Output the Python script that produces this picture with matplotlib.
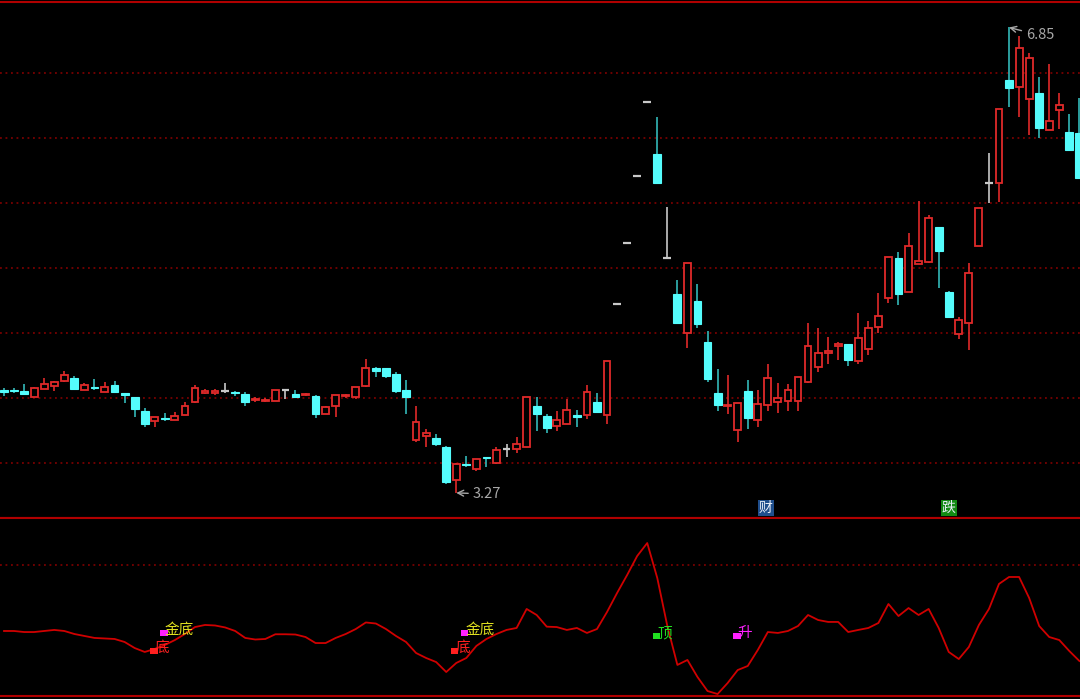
import matplotlib
matplotlib.use("Agg")
import matplotlib.pyplot as plt
from matplotlib.patches import Rectangle

plt.rcParams['font.family'] = ['Noto Sans CJK SC', 'DejaVu Sans']

# ---- daily K-line data ----
opens = [4.062, 4.063, 4.054, 4.010, 4.067, 4.095, 4.131, 4.156, 4.062, 4.088,
         4.048, 4.100, 4.038, 4.005, 3.900, 3.823, 3.850, 3.831, 3.869, 3.972,
         4.042, 4.042, 4.054, 4.046, 4.031, 3.985, 3.977, 3.979, 4.059, 4.028,
         4.023, 4.018, 3.877, 3.941, 4.015, 4.010, 4.092, 4.233, 4.233, 4.185,
         4.062, 3.677, 3.708, 3.690, 3.625, 3.369, 3.496, 3.454, 3.546, 3.498,
         3.608, 3.605, 3.621, 3.938, 3.862, 3.785, 3.800, 3.872, 3.869, 3.967,
         3.869, 4.72, 5.19, 5.71, 6.28, 5.877, 5.079, 4.800, 4.502, 4.744,
         4.431, 4.036, 3.935, 3.754, 4.054, 3.831, 3.944, 3.972, 3.979, 3.979,
         4.121, 4.236, 4.350, 4.400, 4.413, 4.285, 4.377, 4.548, 4.767, 5.075,
         4.813, 5.031, 5.048, 5.318, 4.813, 4.492, 4.579, 5.172, 5.656, 5.656,
         6.446, 6.395, 6.298, 6.348, 6.062, 6.215, 6.044, 6.036]
highs = [4.077, 4.079, 4.105, 4.087, 4.156, 4.133, 4.208, 4.169, 4.118, 4.144,
         4.121, 4.131, 4.038, 4.005, 3.921, 3.856, 3.882, 3.890, 3.967, 4.100,
         4.067, 4.067, 4.113, 4.054, 4.044, 4.005, 3.998, 4.064, 4.067, 4.062,
         4.041, 4.023, 3.941, 4.023, 4.031, 4.082, 4.298, 4.241, 4.233, 4.202,
         4.138, 3.938, 3.759, 3.721, 3.631, 3.502, 3.554, 3.531, 3.548, 3.625,
         3.644, 3.702, 4.010, 4.010, 3.877, 3.900, 3.990, 3.908, 4.100, 4.036,
         4.287, 4.72, 5.19, 5.71, 6.28, 6.159, 5.472, 4.908, 5.036, 4.877,
         4.518, 4.225, 4.177, 3.959, 4.138, 4.062, 4.262, 4.118, 4.108, 4.164,
         4.575, 4.536, 4.472, 4.433, 4.413, 4.652, 4.595, 4.810, 5.082, 5.125,
         5.267, 5.518, 5.408, 5.318, 4.823, 4.625, 5.041, 5.459, 5.887, 6.225,
         6.85, 6.785, 6.652, 6.472, 6.569, 6.344, 6.182, 6.305]
lows = [4.015, 4.041, 4.023, 4.010, 4.067, 4.054, 4.125, 4.067, 4.062, 4.062,
        4.048, 4.041, 3.959, 3.856, 3.779, 3.779, 3.825, 3.831, 3.869, 3.959,
        4.028, 4.023, 4.041, 4.015, 3.941, 3.972, 3.972, 3.979, 3.992, 3.998,
        4.018, 3.844, 3.877, 3.852, 4.002, 3.992, 4.087, 4.164, 4.152, 4.036,
        3.877, 3.664, 3.625, 3.631, 3.338, 3.27, 3.467, 3.441, 3.467, 3.490,
        3.548, 3.575, 3.621, 3.746, 3.728, 3.746, 3.800, 3.775, 3.838, 3.895,
        3.800, 4.72, 5.19, 5.71, 6.28, 5.656, 5.079, 4.575, 4.382, 4.538,
        4.125, 3.902, 3.877, 3.659, 3.762, 3.779, 3.902, 3.887, 3.902, 3.902,
        4.113, 4.202, 4.262, 4.292, 4.246, 4.262, 4.331, 4.498, 4.728, 4.715,
        4.813, 5.031, 5.036, 4.848, 4.621, 4.454, 4.369, 5.172, 5.502, 5.510,
        6.241, 6.164, 6.023, 6.002, 6.062, 6.069, 5.908, 5.690]
closes = [4.046, 4.055, 4.031, 4.075, 4.108, 4.121, 4.177, 4.067, 4.100, 4.077,
          4.082, 4.048, 4.023, 3.915, 3.800, 3.856, 3.838, 3.864, 3.938, 4.075,
          4.054, 4.054, 4.054, 4.035, 3.972, 3.996, 3.985, 4.064, 4.059, 4.010,
          4.031, 3.877, 3.928, 4.023, 4.023, 4.082, 4.228, 4.210, 4.172, 4.056,
          4.010, 3.818, 3.733, 3.644, 3.356, 3.492, 3.485, 3.531, 3.538, 3.600,
          3.608, 3.644, 4.010, 3.877, 3.767, 3.831, 3.908, 3.852, 4.044, 3.895,
          4.287, 4.72, 5.19, 5.71, 6.28, 5.656, 5.079, 4.575, 5.036, 4.567,
          4.144, 3.944, 3.946, 3.959, 3.848, 3.952, 4.156, 3.998, 4.062, 4.164,
          4.402, 4.344, 4.362, 4.412, 4.292, 4.459, 4.536, 4.631, 5.082, 4.800,
          5.169, 5.054, 5.387, 5.133, 4.621, 4.600, 4.959, 5.459, 5.656, 6.225,
          6.382, 6.690, 6.613, 6.075, 6.131, 6.254, 5.908, 5.690]

# ---- lower indicator line ----
indicator = [49.6, 49.6, 48.8, 48.8, 49.6, 50.4, 49.6, 47.3, 45.8, 44.3,
             43.9, 43.5, 41.2, 36.6, 33.6, 35.9, 38.9, 42.7, 47.3, 52.6,
             54.2, 53.8, 52.3, 49.6, 44.3, 43.1, 43.5, 47.1, 47.1, 46.9,
             45.0, 40.4, 40.4, 44.3, 47.3, 51.1, 56.1, 55.3, 51.1, 45.8,
             41.2, 32.8, 29.0, 25.9, 18.3, 25.2, 29.0, 38.2, 43.5, 47.3,
             50.4, 51.9, 66.4, 61.8, 52.9, 52.6, 50.4, 51.9, 48.1, 51.1,
             64.1, 78.6, 92.3, 106.8, 116.7, 90.0, 53.4, 23.7, 27.5, 14.5,
             3.8, 1.5, 9.9, 19.8, 22.9, 35.1, 48.8, 48.1, 49.6, 53.4,
             61.8, 58.0, 56.5, 56.5, 48.8, 50.4, 51.9, 55.7, 70.2, 61.0,
             67.1, 61.8, 66.4, 51.9, 33.6, 28.2, 37.4, 54.2, 66.4, 85.5,
             90.8, 90.8, 74.8, 53.4, 45.0, 42.7, 34.3, 26.7]

price_grid = [3.5, 4.0, 4.5, 5.0, 5.5, 6.0, 6.5]
ind_grid = [100]

# signal labels in the lower panel: (index, value, text, colour)
signals = [(16.0, 50.4, "金底", "#e0e020"), (15.0, 36.6, "底", "#ff2020"),
           (45.9, 50.4, "金底", "#e0e020"), (44.9, 36.6, "底", "#ff2020"),
           (65.0, 48.1, "顶", "#20e020"), (73.0, 48.1, "升", "#ff20ff")]
# event tags in the price panel: (index, text, box colour)
tags = [(75.8, "财", "#1f4e8c"), (94.0, "跌", "#138a13")]

RED = "#e02a2a"
CYAN = "#54fcfc"
CYAN_WICK = "#38c8c8"
WHITE = "#c8c8c8"
GRID = "#8c0000"
FRAME = "#b00000"

W, H = 1080, 699
fig = plt.figure(figsize=(W / 100, H / 100), dpi=100, facecolor="black")
ax1 = fig.add_axes([0, 1 - 518 / H, 1, 516 / H], facecolor="black")
ax2 = fig.add_axes([0, 1 - 696 / H, 1, 178 / H], facecolor="black")

n = len(opens)
xlim = (-0.4, 107.06)
for ax in (ax1, ax2):
    ax.set_xlim(*xlim)
    ax.set_xticks([])
    ax.set_yticks([])
    for s in ("left", "right"):
        ax.spines[s].set_visible(False)
    for s in ("top", "bottom"):
        ax.spines[s].set_color(FRAME)
        ax.spines[s].set_linewidth(1.5)

ax1.set_ylim(3.077, 7.046)
ax2.set_ylim(0, 135.8)

for g in price_grid:
    ax1.axhline(g, color=GRID, lw=1.1, dashes=(1.2, 2.4), zorder=0)
for g in ind_grid:
    ax2.axhline(g, color=GRID, lw=1.1, dashes=(1.2, 2.4), zorder=0)

# ---- candles ----
w = 0.78
for i in range(n):
    o, h, l, c = opens[i], highs[i], lows[i], closes[i]
    if o == c:
        ax1.vlines(i, l, h, color=WHITE, lw=1.2, zorder=2)
        ax1.hlines(o, i - w / 2, i + w / 2, color=WHITE, lw=1.6, zorder=2)
    elif c > o:
        ax1.vlines(i, c, h, color=RED, lw=1.2, zorder=2)
        ax1.vlines(i, l, o, color=RED, lw=1.2, zorder=2)
        ax1.add_patch(Rectangle((i - w / 2 + 0.05, o), w - 0.1, c - o, facecolor="black",
                                edgecolor=RED, lw=1.3, zorder=3))
    else:
        ax1.vlines(i, l, h, color=CYAN_WICK, lw=1.1, zorder=2)
        ax1.add_patch(Rectangle((i - w / 2, c), w, o - c, facecolor=CYAN,
                                edgecolor=CYAN, lw=0.8, zorder=3))

# high / low marks
lo_i = lows.index(min(lows))
hi_i = highs.index(max(highs))
ax1.annotate(f"{lows[lo_i]:.2f}", xy=(lo_i, lows[lo_i]), xytext=(lo_i + 1.6, lows[lo_i] - 0.008),
             color="#a8a8a8", fontsize=10.5, va="center", ha="left",
             arrowprops=dict(arrowstyle="->", color="#a8a8a8", lw=1.0, shrinkA=1, shrinkB=0))
ax1.annotate(f"{highs[hi_i]:.2f}", xy=(hi_i, highs[hi_i]), xytext=(hi_i + 1.65, highs[hi_i] - 0.06),
             color="#a8a8a8", fontsize=10.5, va="center", ha="left",
             arrowprops=dict(arrowstyle="->", color="#a8a8a8", lw=1.0, shrinkA=1, shrinkB=0))

for x, t, col in tags:
    ax1.text(x, 3.154, t, color="#e8eef8", fontsize=10, ha="center", va="center", zorder=5,
             bbox=dict(boxstyle="square,pad=0.08", facecolor=col, edgecolor="none"))

# ---- indicator panel ----
ax2.plot(range(n), indicator, color="#d00000", lw=1.3, zorder=2)
for x, v, t, col in signals:
    ax2.add_patch(Rectangle((x - 0.45, v - 4.5), 0.75, 4.2, facecolor=col if t != "金底" else "#ff20ff",
                            edgecolor="none", zorder=3))
    ax2.text(x, v, t, color=col, fontsize=10.5, ha="left", va="center", zorder=4)

fig.savefig("out.png", dpi=100, facecolor="black")
